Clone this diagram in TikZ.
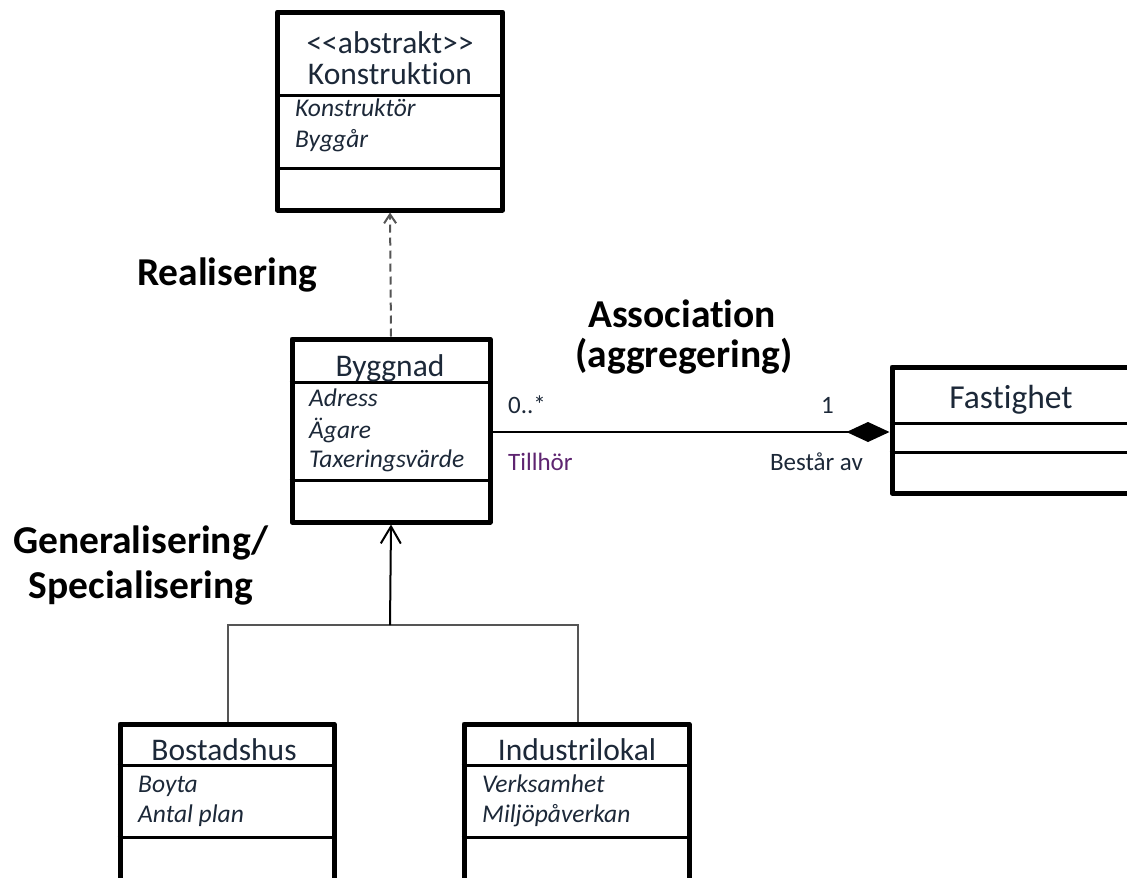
\documentclass[tikz,border=0pt]{standalone}
\usepackage{fontspec}
\setmainfont{Carlito}[Ligatures={TeX,NoCommon}]
\usetikzlibrary{arrows.meta}
\definecolor{ink}{HTML}{1C2838}
\definecolor{rolepurple}{HTML}{5E2470}
\definecolor{treegray}{HTML}{555555}

\begin{document}
\begin{tikzpicture}[x=1pt,y=-1pt,
  classbox/.style={draw=black, line width=5pt, rectangle, inner sep=0pt, line join=round},
  divider/.style={line width=3pt},
  cname/.style={font=\fontsize{31.5}{36}\selectfont, text=ink, inner sep=0pt, anchor=base},
  attr/.style={font=\itshape\fontsize{25.5}{30}\selectfont, text=ink, anchor=base west, inner sep=0pt},
  endlabel/.style={font=\fontsize{25}{30}\selectfont, text=ink, inner sep=0pt},
  caption/.style={font=\bfseries\fontsize{39.5}{46}\selectfont, text=black, inner sep=0pt, anchor=base},
  realize/.style={line width=2pt, draw=treegray, dash pattern=on 8pt off 5pt,
    -{Straight Barb[length=9pt,width=12pt,line width=2pt]}},
  tree/.style={line width=2pt, draw=treegray},
  genarrow/.style={line width=2pt, draw=black,
    -{Straight Barb[length=17pt,width=20pt,line width=2pt]}},
  assoc/.style={line width=2pt, draw=black,
    -{Diamond[length=43pt,width=20pt,fill=black]}}
]
\useasboundingbox (0,0) rectangle (1127,878);
\clip (0,0) rectangle (1127,878);

% --- class boxes ---
\node[classbox, minimum width=225pt, minimum height=198pt] (konst) at (390,111) {};
\node[classbox, minimum width=198pt, minimum height=183pt] (bygg) at (391,430.5) {};
\node[classbox, minimum width=258pt, minimum height=126pt] (fast) at (1021,430) {};
\node[classbox, minimum width=214pt, minimum height=176pt] (bost) at (227,812) {};
\node[classbox, minimum width=225pt, minimum height=176pt] (indu) at (576.5,812) {};

% compartment separators
\draw[divider] (konst.west |- 0,95) -- (konst.east |- 0,95);
\draw[divider] (konst.west |- 0,168) -- (konst.east |- 0,168);
\draw[divider] (bygg.west |- 0,382) -- (bygg.east |- 0,382);
\draw[divider] (bygg.west |- 0,480) -- (bygg.east |- 0,480);
\draw[divider] (fast.west |- 0,423) -- (fast.east |- 0,423);
\draw[divider] (fast.west |- 0,452) -- (fast.east |- 0,452);
\draw[divider] (bost.west |- 0,765) -- (bost.east |- 0,765);
\draw[divider] (bost.west |- 0,837) -- (bost.east |- 0,837);
\draw[divider] (indu.west |- 0,765) -- (indu.east |- 0,765);
\draw[divider] (indu.west |- 0,837) -- (indu.east |- 0,837);

% --- class names (baselines) ---
\node[cname] (konstStereo) at (390,53) {{<}{<}abstrakt{>}{>}};
\node[cname] (konstName) at (390,84) {Konstruktion};
\node[cname] (byggName) at (390,376) {Byggnad};
\node[cname, font=\fontsize{33.5}{38}\selectfont] (fastName) at (1011,408) {Fastighet};
\node[cname] (bostName) at (224,760) {Bostadshus};
\node[cname] (induName) at (577,760) {Industrilokal};

% --- attributes ---
\node[attr] (kA1) at (295,116) {Konstruktör};
\node[attr] (kA2) at (295,147) {Byggår};
\node[attr] (bA1) at (309,406) {Adress};
\node[attr] (bA2) at (309,438) {Ägare};
\node[attr] (bA3) at (309,467) {Taxeringsvärde};
\node[attr] (hA1) at (138,792) {Boyta};
\node[attr] (hA2) at (138,822) {Antal plan};
\node[attr] (iA1) at (482,792) {Verksamhet};
\node[attr] (iA2) at (482,822) {Miljöpåverkan};

% --- relations ---
\draw[realize] (bygg.north) -- (konst.south);

\coordinate (junc) at (390,625);
\draw[tree] (bost.north -| 228,0) |- (junc) -| (indu.north -| 578,0);
\draw[genarrow] (junc) -- (bygg.south);

\draw[assoc] (bygg.east |- 0,432) -- (fast.west |- 0,432);

% association end labels
\node[endlabel, anchor=base west] (mulL) at (508,413) {0..*};
\node[endlabel, anchor=base east] (mulR) at (834,413) {1};
\node[endlabel, anchor=base west, text=rolepurple] (roleL) at (508,470) {Tillhör};
\node[endlabel, anchor=base east] (roleR) at (863,470) {Består av};

% --- captions ---
\node[caption, anchor=base west] (capReal) at (137,285) {Realisering};
\node[caption] (capAssoc) at (682,327) {Association};
\node[caption] (capAggr) at (684,367) {(aggregering)};
\node[caption] (capGen) at (141,553) {Generalisering/};
\node[caption] (capSpec) at (141,598) {Specialisering};
\end{tikzpicture}
\end{document}
